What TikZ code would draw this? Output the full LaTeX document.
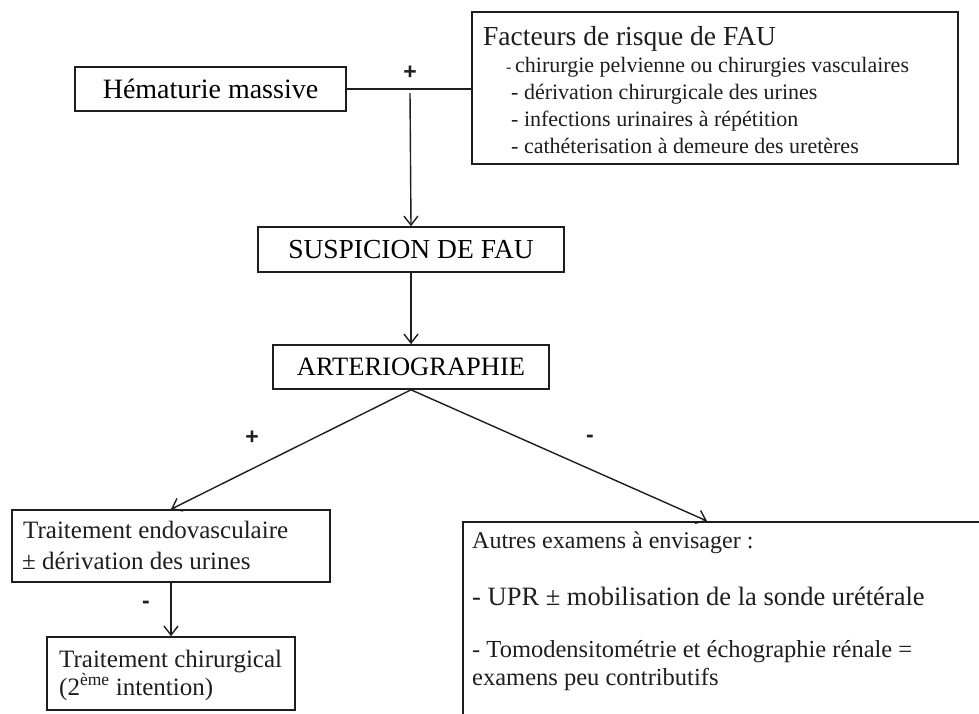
\documentclass[tikz,border=0pt]{standalone}
\usepackage{fontspec}
\setmainfont{Liberation Serif}
\newfontfamily\lblfont{Liberation Sans}
\usetikzlibrary{arrows.meta}
\definecolor{linec}{RGB}{30,30,30}
\begin{document}
\begin{tikzpicture}[x=1pt,y=-1pt,
  box/.style={draw=linec, line width=1.6pt, inner sep=0pt},
  txt/.style={inner sep=0pt, anchor=base west, text=linec},
  sgn/.style={inner sep=0pt, font=\lblfont\bfseries\fontsize{23}{23}\selectfont, text=linec},
  arr/.style={draw=linec, line width=1.4pt, -{Straight Barb[length=9pt,width=14pt,line width=1.4pt]}},
  conn/.style={draw=linec, line width=1.4pt}]
\useasboundingbox (0,0) rectangle (979,713);
\clip (0,0) rectangle (979,713);
\fill[white] (0,0) rectangle (979,713);

% boxes
\node[box, minimum width=271pt, minimum height=44pt, font=\fontsize{28}{32}\selectfont] (hem) at (210.5,89) {Hématurie massive};
\node[box, minimum width=486pt, minimum height=152pt] (fac) at (715,88) {};
\node[box, minimum width=306pt, minimum height=45pt, font=\fontsize{27.5}{32}\selectfont] (susp) at (411,249.5) {SUSPICION DE FAU};
\node[box, minimum width=276pt, minimum height=44pt, font=\fontsize{26.5}{32}\selectfont] (art) at (411,367) {ARTERIOGRAPHIE};
\node[box, minimum width=318pt, minimum height=72pt] (endo) at (171,546) {};
\node[box, minimum width=248pt, minimum height=73pt] (chir) at (171,673.5) {};
\node[box, minimum width=560pt, minimum height=260pt, anchor=north west] (autres) at (462,521) {};

% texts in Facteurs box
\node[txt, font=\fontsize{27.5}{30}\selectfont] (f0) at (483,45) {Facteurs de risque de FAU};
\node[txt, font=\fontsize{22}{26}\selectfont] (f1) at (506,72) {{\fontsize{16}{20}\selectfont -}\,chirurgie pelvienne ou chirurgies vasculaires};
\node[txt, font=\fontsize{22}{26}\selectfont] (f2) at (511,99) {- dérivation chirurgicale des urines};
\node[txt, font=\fontsize{22}{26}\selectfont] (f3) at (511,126) {- infections urinaires à répétition};
\node[txt, font=\fontsize{22}{26}\selectfont] (f4) at (511,153) {- cathéterisation à demeure des uretères};

% texts in left boxes
\node[txt, font=\fontsize{25}{30}\selectfont] (e1) at (23,538) {Traitement endovasculaire};
\node[txt, font=\fontsize{25}{30}\selectfont] (e2) at (22,569) {± dérivation des urines};
\node[txt, font=\fontsize{25}{30}\selectfont] (c1) at (59,667) {Traitement chirurgical};
\node[txt, font=\fontsize{25}{30}\selectfont] (c2) at (59,695) {(2\textsuperscript{ème} intention)};

% texts in right box
\node[txt, font=\fontsize{24}{30}\selectfont] (a1) at (472,548) {Autres examens à envisager :};
\node[txt, font=\fontsize{26.5}{30}\selectfont] (a2) at (472,605) {- UPR ± mobilisation de la sonde urétérale};
\node[txt, font=\fontsize{24.5}{30}\selectfont] (a3) at (472,657) {- Tomodensitométrie et échographie rénale =};
\node[txt, font=\fontsize{24.5}{30}\selectfont] (a4) at (472,685) {examens peu contributifs};

% sign labels
\node[sgn] (p1) at (410,73) {+};
\node[sgn] (p2) at (252,438) {+};
\node[sgn] (m1) at (590,439) {-};
\node[sgn] (m2) at (146,605) {-};

% connectors
\draw[conn] (hem.east) -- (fac.west |- hem.east);
\coordinate (j) at (410,93);
\draw[arr] (j) -- (susp.north);
\draw[arr] (susp.south) -- (art.north);
\draw[arr] (art.south) -- (endo.north);
\coordinate (rt) at (707,521);
\draw[arr] (art.south) -- (rt);
\draw[arr] (endo.south) -- (chir.north);
\end{tikzpicture}
\end{document}
